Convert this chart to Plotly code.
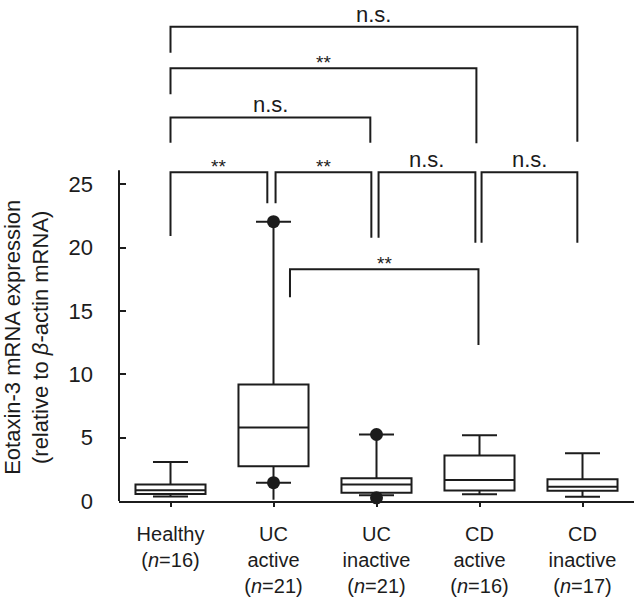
import plotly.graph_objects as go

# ---- data ----
categories = ["Healthy", "UC active", "UC inactive", "CD active", "CD inactive"]
tick_labels = [
    "Healthy<br>(<i>n</i>=16)",
    "UC<br>active<br>(<i>n</i>=21)",
    "UC<br>inactive<br>(<i>n</i>=21)",
    "CD<br>active<br>(<i>n</i>=16)",
    "CD<br>inactive<br>(<i>n</i>=17)",
]
q1 = [0.55, 2.75, 0.66, 0.82, 0.81]
median = [0.85, 5.8, 1.3, 1.66, 1.13]
q3 = [1.3, 9.2, 1.8, 3.6, 1.71]
lower_whisker = [0.35, 1.45, 0.46, 0.54, 0.34]
upper_whisker = [3.08, 22.05, 5.25, 5.18, 3.76]
data_min = [None, 0.1, None, None, None]
outlier_group = [1, 1, 2, 2]
outlier_value = [22.05, 1.45, 5.25, 0.25]

y_ticks = [0, 5, 10, 15, 20, 25]

# significance comparisons: (group a, group b, label)
comparisons = [
    (0, 4, "n.s."),
    (0, 3, "**"),
    (0, 2, "n.s."),
    (0, 1, "**"),
    (1, 2, "**"),
    (2, 3, "n.s."),
    (3, 4, "n.s."),
    (1, 3, "**"),
]

# ---- bracket layout (x of legs, bar height, leg ends) ----
bracket_geom = [
    (0.0, 3.95, 37.43, 35.38, 28.36),
    (0.0, 2.97, 34.15, 32.10, 28.23),
    (0.0, 1.94, 30.28, 28.28, 28.28),
    (0.0, 0.94, 25.94, 20.92, 23.50),
    (1.02, 1.95, 25.94, 23.50, 20.78),
    (2.02, 2.96, 25.94, 20.78, 20.39),
    (3.02, 3.95, 25.94, 20.39, 20.39),
    (1.16, 2.99, 18.29, 16.08, 12.31),
]

INK = "#1c1c1c"
FONT = "Liberation Sans, Arial, sans-serif"
x_pos = list(range(len(categories)))

fig = go.Figure()
fig.add_trace(go.Box(
    x=x_pos, q1=q1, median=median, q3=q3,
    lowerfence=lower_whisker, upperfence=upper_whisker,
    boxpoints=False, width=0.68, whiskerwidth=0.5,
    fillcolor="white", line=dict(color=INK, width=2),
    hoverinfo="skip", showlegend=False,
))

# extension of whisker to minimum
for i, m in enumerate(data_min):
    if m is not None:
        fig.add_trace(go.Scatter(
            x=[x_pos[i], x_pos[i]], y=[lower_whisker[i], m], mode="lines",
            line=dict(color=INK, width=2), showlegend=False, hoverinfo="skip"))

fig.add_trace(go.Scatter(
    x=[x_pos[g] for g in outlier_group], y=outlier_value, mode="markers",
    marker=dict(color=INK, size=13, line=dict(width=0)),
    showlegend=False, hoverinfo="skip", cliponaxis=False))

shapes = []
annotations = []
for (a, b, lab), (xl, xr, ybar, yl, yr) in zip(comparisons, bracket_geom):
    shapes.append(dict(
        type="path", xref="x", yref="y",
        path=f"M {xl},{yl} L {xl},{ybar} L {xr},{ybar} L {xr},{yr}",
        line=dict(color=INK, width=2)))
    is_star = lab == "**"
    annotations.append(dict(
        x=(xl + xr) / 2, y=ybar, xref="x", yref="y",
        text=lab, showarrow=False, xanchor="center", yanchor="bottom",
        yshift=(-7 if is_star else -2),
        font=dict(family=FONT, size=(19 if is_star else 22), color=INK)))

# y axis line (only up to the data area)
shapes.append(dict(type="line", xref="paper", yref="y", x0=0, x1=0, y0=0, y1=26.1,
                   line=dict(color=INK, width=2)))

annotations.append(dict(
    x=-0.18, y=12.9, xref="paper", yref="y",
    text="Eotaxin-3 mRNA expression<br>(relative to <i>β</i>-actin mRNA)",
    textangle=-90, showarrow=False, xanchor="center", yanchor="middle",
    font=dict(family=FONT, size=22, color=INK)))

fig.update_layout(
    width=634, height=598,
    margin=dict(l=119, r=0, t=5, b=97),
    paper_bgcolor="white", plot_bgcolor="white",
    shapes=shapes, annotations=annotations,
    font=dict(family=FONT, size=21, color=INK),
    xaxis=dict(range=[-0.5, 4.5], tickvals=x_pos, ticktext=tick_labels,
               showline=True, linecolor=INK, linewidth=2, ticks="outside",
               ticklen=4, tickwidth=2, tickcolor=INK, showgrid=False,
               zeroline=False, ticklabelstandoff=10,
               tickfont=dict(family=FONT, size=20, color=INK)),
    yaxis=dict(range=[0, 39.15], tickvals=y_ticks, showline=False,
               ticks="inside", ticklen=7, tickwidth=2, tickcolor=INK,
               showgrid=False, zeroline=False, ticklabelstandoff=25,
               tickfont=dict(family=FONT, size=22, color=INK)),
)

fig.write_html("out.html", config={"displayModeBar": False},
               post_script="document.body.style.margin='0';")
